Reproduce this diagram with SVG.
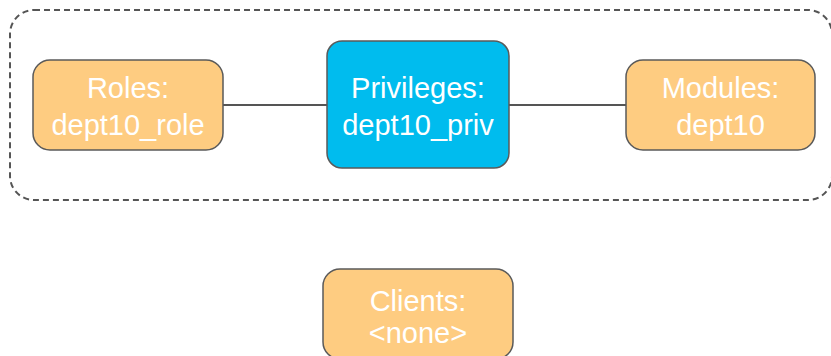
<svg xmlns="http://www.w3.org/2000/svg" width="831" height="356" viewBox="0 0 831 356">
<style>
.box{stroke:#5a5a5a;stroke-width:1.5}
.org{fill:#fecc81}
.blue{fill:#00bcee}
.t{font-family:"Liberation Sans",Arial,sans-serif;font-size:29px;fill:#ffffff;text-anchor:middle}
.edge{stroke:#555555;stroke-width:2;fill:none}
</style>
<rect x="10" y="10" width="822" height="190" rx="24" fill="none" stroke="#555555" stroke-width="2" stroke-dasharray="6 4"/>
<g id="connectors">
<line class="edge" x1="223" y1="105" x2="327" y2="105"/>
<line class="edge" x1="509" y1="105" x2="626" y2="105"/>
</g>
<g id="roles">
<rect class="box org" x="33" y="60" width="190" height="90" rx="17"/>
<text class="t" x="128" y="98">Roles:</text>
<text class="t" x="128" y="135">dept10_role</text>
</g>
<g id="privileges">
<rect class="box blue" x="327" y="41" width="182" height="127" rx="15"/>
<text class="t" x="418" y="98">Privileges:</text>
<text class="t" x="418" y="135">dept10_priv</text>
</g>
<g id="modules">
<rect class="box org" x="626" y="60" width="189" height="90" rx="17"/>
<text class="t" x="720.5" y="98">Modules:</text>
<text class="t" x="720.5" y="135">dept10</text>
</g>
<g id="clients">
<rect class="box org" x="323" y="269" width="190" height="90" rx="17"/>
<text class="t" x="418" y="311">Clients:</text>
<text class="t" x="418" y="343">&lt;none&gt;</text>
</g>
</svg>
